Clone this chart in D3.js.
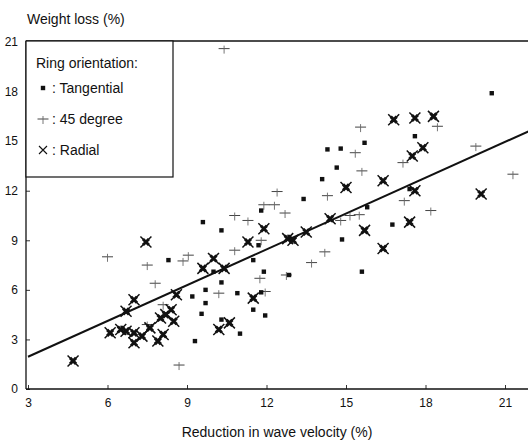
<!DOCTYPE html>
<html>
<head>
<meta charset="utf-8">
<script src="https://cdn.jsdelivr.net/npm/d3@7"></script>
<style>
  body { margin: 0; background: #fff; }
  text { font-family: "Liberation Sans", Arial, sans-serif; fill: #111; }
</style>
</head>
<body>
<div id="main"></div>
<script>
//tick values for both axes
const xTicks = [3, 6, 9, 12, 15, 18, 21];
const yTicks = [0, 3, 6, 9, 12, 15, 18, 21];

//tangential rings: reduction in wave velocity / weight loss
const tangX = [8.3, 9.2, 9.3, 9.55, 9.6, 9.7, 9.7, 10.0, 10.3, 10.3, 10.3, 10.9, 11.0, 11.5, 11.5, 11.7, 11.8, 11.8, 11.9, 11.95, 12.85, 13.4, 14.1, 14.3, 14.65, 14.8, 14.85, 15.6, 15.7, 15.8, 16.75, 17.4, 17.6, 20.5];
const tangY = [7.8, 5.6, 2.9, 4.55, 10.1, 6.0, 5.2, 7.1, 9.6, 6.45, 4.2, 5.8, 3.35, 7.8, 4.8, 8.7, 10.8, 5.85, 7.1, 4.45, 6.9, 11.5, 12.7, 14.5, 13.4, 14.55, 9.05, 7.1, 14.9, 11.0, 9.95, 12.1, 15.3, 17.9];

//45 degree rings
const degX = [6.0, 7.5, 7.8, 8.1, 7.5, 8.7, 8.85, 9.05, 10.2, 10.4, 10.8, 10.8, 11.3, 11.75, 11.8, 11.95, 11.9, 12.3, 12.4, 12.7, 12.75, 13.7, 14.2, 14.3, 14.8, 15.15, 15.35, 15.5, 15.55, 15.6, 17.15, 17.2, 18.2, 18.45, 19.9, 21.3];
const degY = [8.0, 7.5, 6.4, 5.1, 3.9, 1.45, 7.75, 8.1, 5.8, 20.6, 8.4, 10.5, 10.2, 6.7, 9.0, 5.9, 11.15, 11.15, 11.95, 10.65, 6.9, 7.65, 8.3, 11.7, 10.2, 10.5, 14.3, 10.55, 15.85, 13.2, 13.7, 11.4, 10.8, 15.9, 14.7, 13.0];

//radial rings
const radX = [4.7, 6.1, 6.5, 6.7, 6.7, 7.0, 7.0, 7.0, 7.3, 7.6, 7.9, 8.0, 8.1, 8.2, 8.4, 8.5, 8.6, 7.45, 9.6, 10.0, 10.4, 10.2, 10.6, 11.3, 11.5, 11.9, 12.8, 13.0, 13.5, 14.4, 15.0, 15.7, 16.4, 16.4, 16.8, 17.4, 17.5, 17.6, 17.6, 17.9, 18.3, 20.1];
const radY = [1.7, 3.4, 3.6, 3.5, 4.7, 5.4, 2.8, 3.4, 3.2, 3.7, 2.9, 4.3, 3.3, 4.5, 4.8, 4.1, 5.7, 8.9, 7.3, 7.9, 7.3, 3.6, 4.0, 8.9, 5.5, 9.7, 9.1, 9.0, 9.5, 10.3, 12.2, 9.6, 12.6, 8.5, 16.3, 10.1, 14.1, 12.0, 16.4, 14.6, 16.5, 11.8];

//fitted line end points
const fitX = [3, 21.9];
const fitY = [1.95, 15.6];

const legendLabels = [": Tangential", ": 45 degree", ": Radial"];

var width = 528;
var height = 444;
var plotLeft = 26, plotTop = 41, plotBottom = 389;

const svg = d3.select('#main')
            .append('svg')
            .attr('width', width)
            .attr('height', height);

var xScale = d3.scaleLinear().domain([3, 21]).range([28, 505]);
var yScale = d3.scaleLinear().domain([0, 21]).range([389, 42]);

//frame: top line, left and bottom axes
svg.append('line').attr('x1', plotLeft).attr('x2', width).attr('y1', plotTop).attr('y2', plotTop)
   .attr('stroke', '#111').attr('stroke-width', 1.3);

var xAxis = d3.axisBottom(xScale).tickValues(xTicks).tickSize(-4).tickPadding(9);
var yAxis = d3.axisLeft(yScale).tickValues(yTicks).tickSize(-4).tickPadding(8);

var gx = svg.append('g').attr('id', 'x-axis')
   .attr('transform', 'translate(0,' + plotBottom + ')')
   .call(xAxis);
var gy = svg.append('g').attr('id', 'y-axis')
   .attr('transform', 'translate(' + plotLeft + ',0)')
   .call(yAxis);

[gx, gy].forEach(function(g){
  g.select('.domain').remove();
  g.selectAll('line').attr('stroke', '#333');
  g.selectAll('text').style('font-family', '"Liberation Sans", Arial, sans-serif')
   .style('font-size', '12px').attr('fill', '#111');
});
svg.append('line').attr('x1', plotLeft).attr('x2', width).attr('y1', plotBottom).attr('y2', plotBottom)
   .attr('stroke', '#111').attr('stroke-width', 1.3);
svg.append('line').attr('x1', plotLeft).attr('x2', plotLeft).attr('y1', plotTop).attr('y2', plotBottom)
   .attr('stroke', '#111').attr('stroke-width', 1.3);

//axis titles
svg.append('text').attr('x', 27).attr('y', 24).style('font-size', '14px').text('Weight loss (%)');
svg.append('text').attr('x', 277).attr('y', 437).attr('text-anchor', 'middle')
   .style('font-size', '14px').text('Reduction in wave velocity (%)');

//fitted line
svg.append('line')
   .attr('x1', xScale(fitX[0])).attr('y1', yScale(fitY[0]))
   .attr('x2', xScale(fitX[1])).attr('y2', yScale(fitY[1]))
   .attr('stroke', '#111').attr('stroke-width', 2);

//marker drawing helpers
function square(g){
  g.append('rect').attr('x', -2.2).attr('y', -2.2).attr('width', 4.4).attr('height', 4.4).attr('fill', '#111');
}
function plus(g){
  g.append('line').attr('x1', -5.5).attr('x2', 5.5).attr('y1', 0).attr('y2', 0).attr('stroke', '#444').attr('stroke-width', 1);
  g.append('line').attr('x1', 0).attr('x2', 0).attr('y1', -3).attr('y2', 5).attr('stroke', '#666').attr('stroke-width', 0.9);
}
function cross(g){
  g.append('path').attr('d', 'M-5.5,-5.5L5.5,5.5M-5.5,5.5L5.5,-5.5').attr('stroke', '#111').attr('stroke-width', 1.5);
  g.append('path').attr('d', 'M-3,-3L3,3M-3,3L3,-3').attr('stroke', '#111').attr('stroke-width', 3);
}

var marks = svg.append('g').attr('class', 'marks');

marks.selectAll('g.deg').data(degX).enter().append('g').attr('class', 'deg')
  .attr('transform', function(d, i){ return 'translate(' + xScale(d) + ',' + yScale(degY[i]) + ')'; })
  .each(function(){ plus(d3.select(this)); });

marks.selectAll('g.tang').data(tangX).enter().append('g').attr('class', 'tang')
  .attr('transform', function(d, i){ return 'translate(' + xScale(d) + ',' + yScale(tangY[i]) + ')'; })
  .each(function(){ square(d3.select(this)); });

marks.selectAll('g.rad').data(radX).enter().append('g').attr('class', 'rad')
  .attr('transform', function(d, i){ return 'translate(' + xScale(d) + ',' + yScale(radY[i]) + ')'; })
  .each(function(){ cross(d3.select(this)); });

//legend box
var legend = svg.append('g').attr('id', 'legend');
legend.append('rect').attr('x', plotLeft).attr('y', plotTop).attr('width', 147).attr('height', 136)
  .attr('fill', '#fff').attr('stroke', '#111').attr('stroke-width', 1.2);
legend.append('text').attr('x', 36).attr('y', 68).style('font-size', '14px').text('Ring orientation:');

var drawers = [square, plus, function(g){
  g.append('path').attr('d', 'M-4,-4L4,4M-4,4L4,-4').attr('stroke', '#111').attr('stroke-width', 1.1);
}];
legendLabels.forEach(function(label, i){
  var y = 93 + i * 31;
  var g = legend.append('g').attr('transform', 'translate(43,' + (y - 5) + ')');
  drawers[i](g);
  legend.append('text').attr('x', 52).attr('y', y).style('font-size', '14px').text(label);
});
</script>
</body>
</html>
